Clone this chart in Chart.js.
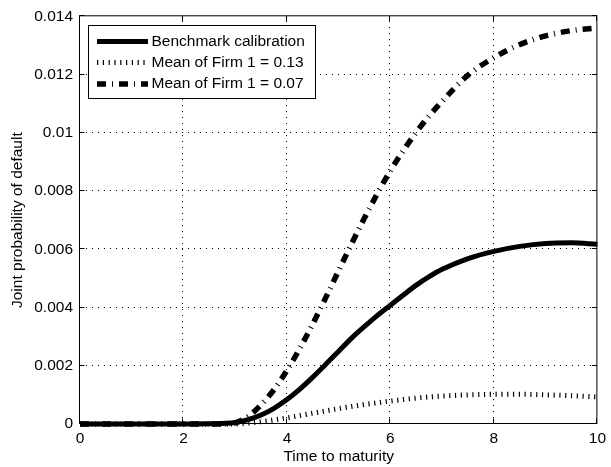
<!DOCTYPE html>
<html><head><meta charset="utf-8">
<script src="https://cdn.jsdelivr.net/npm/chart.js@4"></script>
<style>html,body{margin:0;padding:0;background:#fff}#wrap{width:611px;height:467px}</style>
</head><body><div id="wrap"><canvas id="c" width="611" height="467"></canvas></div>
<script>
const times        = [0, 1, 2, 2.5, 2.75, 3, 3.25, 3.5, 3.75, 4, 4.25, 4.5, 4.75, 5, 5.25, 5.5, 5.75, 6, 6.25, 6.5, 6.75, 7, 7.5, 8, 8.5, 9, 9.5, 10];
const benchmark    = [0, 0, 0, 0.000005, 0.00002, 0.00005, 0.00015, 0.00031, 0.00054, 0.00084, 0.0012, 0.00161, 0.00205, 0.0025, 0.00295, 0.00335, 0.00373, 0.00408, 0.00443, 0.00477, 0.00506, 0.00531, 0.00568, 0.00593, 0.0061, 0.0062, 0.00622, 0.00617];
const meanFirm013  = [0, 0, 0, 0, 0, 0, 0.00003, 0.00008, 0.00014, 0.00021, 0.00029, 0.00037, 0.00045, 0.00053, 0.0006, 0.00067, 0.00073, 0.00079, 0.00084, 0.00089, 0.00093, 0.00096, 0.001, 0.00102, 0.00102, 0.001, 0.00097, 0.00093];
const meanFirm007  = [0, 0, 0, 0, 0.000005, 0.00004, 0.00026, 0.00066, 0.00118, 0.00184, 0.0026, 0.00344, 0.00434, 0.00527, 0.00619, 0.00708, 0.00792, 0.0087, 0.00939, 0.01002, 0.01058, 0.01108, 0.01198, 0.01258, 0.01303, 0.01333, 0.01351, 0.0136];
const seriesLabels = ['Benchmark calibration', 'Mean of Firm 1 = 0.13', 'Mean of Firm 1 = 0.07'];
const xTickLabels  = ['0', '2', '4', '6', '8', '10'];
const yTickLabels  = ['0', '0.002', '0.004', '0.006', '0.008', '0.01', '0.012', '0.014'];
const xTitle = 'Time to maturity';
const yTitle = 'Joint probability of default';

const FONT = '"Liberation Sans", Arial, Helvetica, sans-serif';
const FSIZE = 15.5;

function pts(ys) { return times.map((t, i) => ({x: t, y: ys[i]})); }

const matlabFrame = {
  id: 'matlabFrame',
  beforeDatasetsDraw(chart) {
    const {ctx, chartArea: a, scales: {x, y}} = chart;
    ctx.save();
    ctx.strokeStyle = '#000';
    ctx.lineWidth = 1;
    ctx.setLineDash([1, 5]);
    x.ticks.forEach(tk => {
      const px = Math.round(x.getPixelForValue(tk.value)) - 0.5;
      if (px <= a.left + 1 || px >= a.right - 1) return;
      ctx.beginPath(); ctx.moveTo(px, a.bottom); ctx.lineTo(px, a.top); ctx.stroke();
    });
    y.ticks.forEach(tk => {
      const py = Math.round(y.getPixelForValue(tk.value)) - 0.5;
      if (py <= a.top + 1 || py >= a.bottom - 1) return;
      ctx.beginPath(); ctx.moveTo(a.left, py); ctx.lineTo(a.right, py); ctx.stroke();
    });
    ctx.restore();
  },
  afterDatasetsDraw(chart) {
    const {ctx, chartArea: a, scales: {x, y}} = chart;
    ctx.save();
    ctx.strokeStyle = '#000';
    ctx.lineWidth = 1;
    ctx.setLineDash([]);
    const L = a.left - 0.5, R = a.right - 0.5, T = a.top - 0.5, B = a.bottom - 0.5;
    ctx.strokeRect(L, T, R - L, B - T);
    const tl = 5;
    ctx.beginPath();
    x.ticks.forEach(tk => {
      const px = Math.round(x.getPixelForValue(tk.value)) - 0.5;
      ctx.moveTo(px, B); ctx.lineTo(px, B - tl);
      ctx.moveTo(px, T); ctx.lineTo(px, T + tl);
    });
    y.ticks.forEach(tk => {
      const py = Math.round(y.getPixelForValue(tk.value)) - 0.5;
      ctx.moveTo(L, py); ctx.lineTo(L + tl, py);
      ctx.moveTo(R, py); ctx.lineTo(R - tl, py);
    });
    ctx.stroke();

    // legend
    const bx = 88.5, by = 25.5, bw = 227, bh = 73;
    ctx.fillStyle = '#fff';
    ctx.fillRect(bx, by, bw, bh);
    ctx.strokeRect(bx, by, bw, bh);
    const rows = [41.5, 62.5, 84];
    chart.data.datasets.forEach((ds, i) => {
      ctx.save();
      ctx.strokeStyle = ds.borderColor;
      ctx.lineWidth = ds.borderWidth;
      ctx.setLineDash(ds.borderDash || []);
      ctx.lineCap = 'butt';
      ctx.beginPath(); ctx.moveTo(97, rows[i]); ctx.lineTo(148, rows[i]); ctx.stroke();
      ctx.restore();
      ctx.fillStyle = '#000';
      ctx.font = FSIZE + 'px ' + FONT;
      ctx.textAlign = 'left';
      ctx.textBaseline = 'middle';
      ctx.fillText(ds.label, 151.5, rows[i]);
    });
    ctx.restore();
  }
};

const common = {pointRadius: 0, cubicInterpolationMode: 'monotone', clip: false, fill: false, borderColor: '#000'};

new Chart(document.getElementById('c'), {
  type: 'line',
  data: {
    datasets: [
      Object.assign({label: seriesLabels[0], data: pts(benchmark), borderWidth: 5, borderDash: []}, common),
      Object.assign({label: seriesLabels[1], data: pts(meanFirm013), borderWidth: 5, borderDash: [1.2, 4.6]}, common),
      Object.assign({label: seriesLabels[2], data: pts(meanFirm007), borderWidth: 5.5, borderDash: [9, 6, 1, 6]}, common)
    ]
  },
  options: {
    responsive: false,
    animation: false,
    devicePixelRatio: 1,
    layout: {padding: {top: 13, right: 11, left: 0, bottom: 0}},
    plugins: {legend: {display: false}, tooltip: {enabled: false}},
    scales: {
      x: {
        type: 'linear', min: 0, max: 10,
        afterFit(s) { s.height = 43; },
        grid: {display: false, drawTicks: false},
        border: {display: false},
        ticks: {stepSize: 2, padding: 5, color: '#000', font: {family: FONT, size: FSIZE},
                maxRotation: 0, autoSkip: false,
                callback: (v, i) => xTickLabels[i]},
        title: {display: true, text: xTitle, color: '#000', font: {family: FONT, size: FSIZE}, padding: {top: 0, bottom: 1}}
      },
      y: {
        type: 'linear', min: 0, max: 0.014,
        afterFit(s) { s.width = 80; },
        grid: {display: false, drawTicks: false},
        border: {display: false},
        ticks: {stepSize: 0.002, padding: 7, color: '#000', font: {family: FONT, size: FSIZE},
                autoSkip: false,
                callback: (v, i) => yTickLabels[i]},
        title: {display: true, text: yTitle, color: '#000', font: {family: FONT, size: FSIZE}, padding: {top: 8, bottom: 0}}
      }
    }
  },
  plugins: [matlabFrame]
});
</script>
</body></html>
